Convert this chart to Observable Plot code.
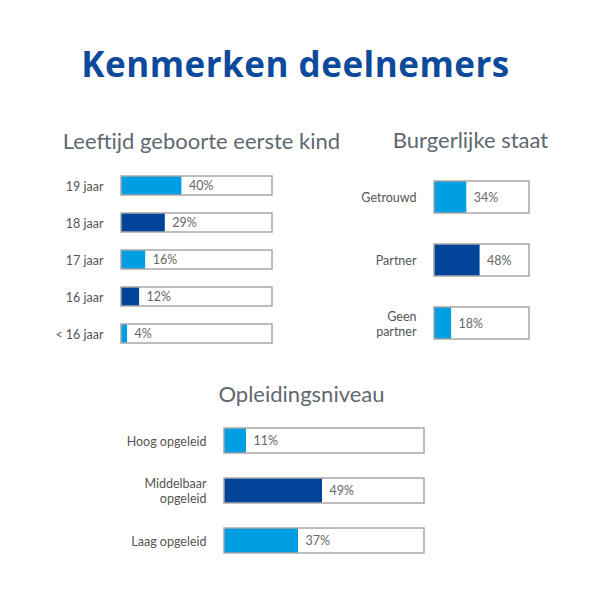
<!DOCTYPE html>
<html><head><meta charset="utf-8">
<script src="https://cdn.jsdelivr.net/npm/d3@7"></script>
<script src="https://cdn.jsdelivr.net/npm/@observablehq/plot@0.6"></script>
<style>
body{margin:0;background:#fff;}
#wrap{position:relative;width:615px;height:604px;background:#fff;font-family:Lato,sans-serif;overflow:hidden}
.t{position:absolute;line-height:1;text-align:center;white-space:nowrap}
.main{font-family:"Open Sans",sans-serif;font-weight:700;font-size:35px;letter-spacing:0.5px;color:#0d4a9c}
.sub{font-family:Lato,sans-serif;font-size:22px;color:#5f6770}
.p{position:absolute}
</style></head><body>
<div id="wrap"></div>
<script>
// ---- data ----
const mainTitle = "Kenmerken deelnemers";

const ageTitle = "Leeftijd geboorte eerste kind";
const ageCats = ["19 jaar", "18 jaar", "17 jaar", "16 jaar", "< 16 jaar"];
const ageVals = [40, 29, 16, 12, 4];
const ageShades = ["light", "dark", "light", "dark", "light"];

const civilTitle = "Burgerlijke staat";
const civilCats = ["Getrouwd", "Partner", "Geen\npartner"];
const civilVals = [34, 48, 18];
const civilShades = ["light", "dark", "light"];

const eduTitle = "Opleidingsniveau";
const eduCats = ["Hoog opgeleid", "Middelbaar\nopgeleid", "Laag opgeleid"];
const eduVals = [11, 49, 37];
const eduShades = ["light", "dark", "light"];

const total = 100;

// ---- styles ----
const LIGHT = "#009fe3", DARK = "#00449a";
const wrap = document.getElementById("wrap");

function addTitle(text, cls, left, width, top) {
  const d = document.createElement("div");
  d.className = "t " + cls;
  d.textContent = text;
  d.style.left = left + "px"; d.style.width = width + "px"; d.style.top = top + "px";
  wrap.appendChild(d);
}

function panel(cats, vals, shades, o) {
  const data = cats.map((c, i) => ({cat: c, v: vals[i], shade: shades[i]}));
  const svg = Plot.plot({
    width: o.w, height: o.h,
    marginLeft: o.ml, marginRight: o.mr, marginTop: o.mt, marginBottom: o.mb,
    style: {background: "transparent", fontFamily: "Lato, sans-serif", fontSize: "12.5px", color: "#555", overflow: "visible"},
    x: {domain: [0, total], axis: null},
    y: {domain: cats, axis: null, padding: 0.5},
    color: {domain: ["light", "dark"], range: [LIGHT, DARK]},
    marks: [
      Plot.barX(data, {y: "cat", x: () => total, fill: "white"}),
      Plot.barX(data, {y: "cat", x: "v", fill: "shade"}),
      Plot.barX(data, {y: "cat", x: () => total, fill: "none", stroke: "#a8a8a8", strokeWidth: 1.5}),
      Plot.text(data, {y: "cat", x: "v", text: d => d.v + "%", dx: 7, textAnchor: "start", fill: "#666", fontSize: 12.5}),
      Plot.text(data, {y: "cat", frameAnchor: "left", text: "cat", dx: -18, textAnchor: "end", fill: "#555", fontSize: 12.5, lineHeight: 1.2})
    ]
  });
  svg.classList.add("p");
  svg.style.left = o.left + "px";
  svg.style.top = o.top + "px";
  wrap.appendChild(svg);
}

addTitle(mainTitle, "main", 0, 591, 46);
addTitle(ageTitle, "sub", 0, 403, 129.5);
addTitle(civilTitle, "sub", 370, 201, 128.5);
addTitle(eduTitle, "sub", 150, 303, 382.5);

panel(ageCats, ageVals, ageShades, {left: 0, top: 150, w: 290, h: 220, ml: 121, mr: 18, mt: 6, mb: 8});
panel(civilCats, civilVals, civilShades, {left: 340, top: 140, w: 200, h: 240, ml: 94, mr: 11, mt: 9, mb: 10.5});
panel(eduCats, eduVals, eduShades, {left: 0, top: 395, w: 440, h: 192.5, ml: 224, mr: 16, mt: 7.5, mb: 10});
</script>
</body></html>
